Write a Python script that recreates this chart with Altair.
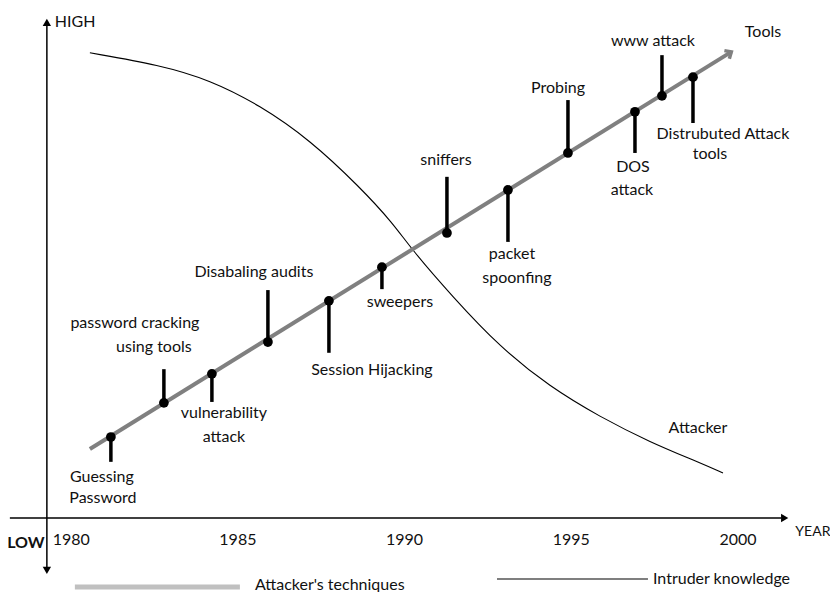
import altair as alt
import pandas as pd

# ---- Attacker's techniques (tools) milestones ----
tool_year = [1981.19, 1982.78, 1984.22, 1985.90, 1987.73, 1989.32,
             1991.27, 1993.10, 1994.90, 1996.91, 1997.72, 1998.65]
tool_level = [17.3, 24.6, 30.8, 37.6, 46.4, 53.6, 60.9, 70.1, 78.0, 86.8, 90.2, 94.2]
stem_end = [12.0, 31.8, 24.8, 48.7, 35.3, 48.9, 72.9, 59.0, 89.3, 78.0, 98.9, 84.4]

# ---- labels for the milestones (one entry per text line) ----
label_text = ["Guessing", "Password", "password cracking", "using tools",
              "vulnerability", "attack", "Disabaling audits", "Session Hijacking",
              "sweepers", "sniffers", "packet", "spoonfing", "Probing",
              "DOS", "attack", "www attack", "Distrubuted Attack", "tools",
              "Tools", "Attacker"]
label_year = [1980.92, 1980.95, 1981.91, 1982.48, 1984.58, 1984.58, 1985.48, 1989.02,
              1989.86, 1991.24, 1993.22, 1993.37, 1994.60, 1996.85, 1996.82, 1997.45,
              1999.55, 1999.16, 2000.75, 1998.80]
label_level = [8.76, 4.27, 41.67, 36.54, 22.44, 17.31, 52.56, 31.62, 46.15, 76.50,
               56.41, 51.28, 91.88, 75.0, 70.09, 101.92, 82.05, 77.78, 103.85, 19.23]

# ---- intruder knowledge curve ----
curve_year = [1980.56, 1982.66, 1984.16, 1985.66, 1987.16, 1988.66, 1989.65, 1990.22,
              1991.45, 1992.86, 1994.36, 1995.86, 1997.36, 1998.86, 1999.55]
curve_level = [99.4, 96.8, 93.6, 88.2, 80.8, 70.7, 63.0, 57.3, 47.2, 36.5, 28.0, 21.6,
               16.2, 11.8, 9.6]

# ---- attacker's techniques trend line ----
trend_year = [1980.56, 1999.80]
trend_level = [14.74, 99.6]

# ---- axis labels ----
tick_years = [1980, 1985, 1990, 1995, 2000]
tick_labels = ["1980", "1985", "1990", "1995", "2000"]

FONT = "Lato"
FS = 16
xs = alt.Scale(domain=[1978.104, 2002.76], nice=False, zero=False)
ys = alt.Scale(domain=[-15.812, 108.974], nice=False, zero=False)


def X(f="year"):
    return alt.X(f"{f}:Q", scale=xs, axis=None)


def Y(f="level"):
    return alt.Y(f"{f}:Q", scale=ys, axis=None)


tools = pd.DataFrame({"year": tool_year, "level": tool_level, "end": stem_end})
labels = pd.DataFrame({"year": label_year, "level": label_level, "text": label_text})
curve = pd.DataFrame({"year": curve_year, "level": curve_level})
trend = pd.DataFrame({"year": trend_year, "level": trend_level})
ticks = pd.DataFrame({"year": tick_years, "text": tick_labels, "level": [-4.7] * 5})

# axes lines
xaxis = pd.DataFrame({"year": [1978.16], "year2": [2001.3], "level": [0.0]})
yaxis = pd.DataFrame({"year": [1979.27], "level": [-11.0], "level2": [105.5]})
arrows = pd.DataFrame({"year": [2001.40, 1979.27, 1979.27],
                       "level": [0.0, 105.9, -11.2],
                       "shape": ["triangle-right", "triangle-up", "triangle-down"]})

layers = []
layers.append(alt.Chart(xaxis).mark_rule(color="#000", strokeWidth=1.5).encode(
    x=X(), x2="year2:Q", y=Y()))
layers.append(alt.Chart(yaxis).mark_rule(color="#000", strokeWidth=1.5).encode(
    x=X(), y=Y(), y2="level2:Q"))
layers.append(alt.Chart(arrows).mark_point(filled=True, color="#000", size=70, opacity=1).encode(
    x=X(), y=Y(), shape=alt.Shape("shape:N", scale=None)))

# intruder knowledge curve
layers.append(alt.Chart(curve).mark_line(color="#000", strokeWidth=1.1, interpolate="basis").encode(
    x=X(), y=Y()))

# trend line (attacker's techniques)
layers.append(alt.Chart(trend).mark_line(color="#808080", strokeWidth=4).encode(x=X(), y=Y()))
layers.append(alt.Chart(trend.tail(1)).mark_point(
    shape="M-1,-0.9L0,0L-1,0.9", filled=False, stroke="#808080", strokeWidth=3.5,
    size=110, angle=328.3, opacity=1).encode(x=X(), y=Y()))

# stems and dots
layers.append(alt.Chart(tools).mark_rule(color="#000", strokeWidth=3.5).encode(
    x=X(), y=Y(), y2="end:Q"))
layers.append(alt.Chart(tools).mark_circle(color="#000", size=95, opacity=1).encode(
    x=X(), y=Y()))

# labels
layers.append(alt.Chart(labels).mark_text(font=FONT, fontSize=FS, color="#111",
                                          baseline="middle", align="center").encode(
    x=X(), y=Y(), text="text:N"))
layers.append(alt.Chart(ticks).mark_text(font=FONT, fontSize=FS, color="#111",
                                         baseline="middle", align="center").encode(
    x=X(), y=Y(), text="text:N"))

# axis titles
axis_titles = pd.DataFrame({"year": [1979.51, 2001.72], "level": [106.0, -3.0],
                            "text": ["HIGH", "YEAR"], "size": [FS, 14]})
layers.append(alt.Chart(axis_titles).mark_text(font=FONT, color="#111",
                                               baseline="middle", align="left").encode(
    x=X(), y=Y(), text="text:N", size=alt.Size("size:Q", scale=None, legend=None)))
low = pd.DataFrame({"year": [1978.64], "level": [-5.34], "text": ["LOW"]})
layers.append(alt.Chart(low).mark_text(font=FONT, fontSize=FS, fontWeight="bold", color="#111",
                                       baseline="middle", align="center").encode(
    x=X(), y=Y(), text="text:N"))

# legend
leg_lines = pd.DataFrame({"year": [1980.11, 1992.77], "year2": [1985.06, 1997.30],
                          "level": [-14.74, -13.03], "kind": ["tech", "know"]})
layers.append(alt.Chart(leg_lines).mark_rule().encode(
    x=X(), x2="year2:Q", y=Y(),
    color=alt.Color("kind:N", scale=alt.Scale(domain=["tech", "know"], range=["#c0c0c0", "#000"]),
                    legend=None),
    strokeWidth=alt.StrokeWidth("kind:N", scale=alt.Scale(domain=["tech", "know"], range=[5, 1.2]),
                                legend=None)))
leg_text = pd.DataFrame({"year": [1985.51, 1997.45], "level": [-14.3, -13.03],
                         "text": ["Attacker's techniques", "Intruder knowledge"]})
layers.append(alt.Chart(leg_text).mark_text(font=FONT, fontSize=FS, color="#111",
                                            baseline="middle", align="left").encode(
    x=X(), y=Y(), text="text:N"))

chart = alt.layer(*layers).properties(
    width=822, height=584, padding=0, autosize=alt.AutoSizeParams(type="none"),
    background="white"
).configure_view(stroke=None)

chart.save("out.html", embed_options={"renderer": "svg", "actions": False})
